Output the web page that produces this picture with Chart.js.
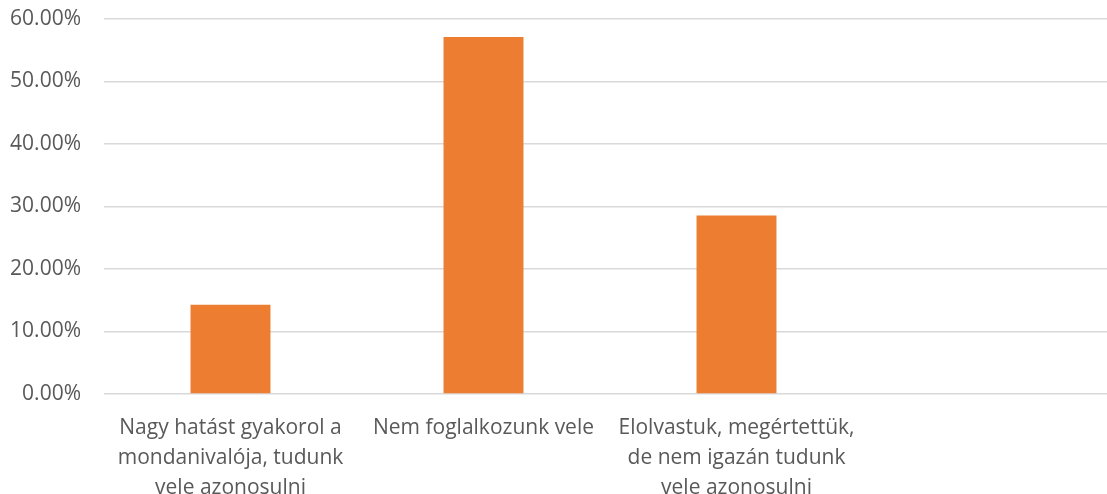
<!DOCTYPE html>
<html>
<head>
<meta charset="utf-8">
<script src="https://cdn.jsdelivr.net/npm/chart.js@4.4.0/dist/chart.umd.min.js"></script>
<style>
  html, body { margin: 0; padding: 0; background: #fff; overflow: hidden; }
  #wrap { width: 1120px; height: 494px; position: relative; }
</style>
</head>
<body>
<div id="wrap"><canvas id="chart"></canvas></div>
<script>
// categories (4th slot is empty in the original)
const categories = [
  ["Nagy hatást gyakorol a", "mondanivalója, tudunk", "vele azonosulni"],
  "Nem foglalkozunk vele",
  ["Elolvastuk, megértettük,", "de nem igazán tudunk", "vele azonosulni"],
  "",
];
const values = [0.1429, 0.5714, 0.2857, null];
const yTicks = [0, 0.1, 0.2, 0.3, 0.4, 0.5, 0.6];

const textColor = "#595959";
const gridColor = "#D9D9D9";
const xFont = { family: "'Open Sans', sans-serif", size: 21, lineHeight: 1.43 };
const yFont = { family: "'Open Sans', sans-serif", size: 21, lineHeight: 1.2 };

const ctx = document.getElementById("chart").getContext("2d");
new Chart(ctx, {
  type: "bar",
  data: {
    labels: categories,
    datasets: [
      {
        data: values,
        backgroundColor: "#ED7D31",
        categoryPercentage: 1,
        barPercentage: 0.316,
      },
    ],
  },
  options: {
    responsive: true,
    maintainAspectRatio: false,
    animation: false,
    layout: { padding: { top: 19, right: 4, bottom: 0, left: 0 } },
    plugins: { legend: { display: false }, tooltip: { enabled: false } },
    scales: {
      x: {
        grid: { display: false, drawTicks: false },
        border: { display: false },
        ticks: { color: textColor, font: xFont, padding: 19, maxRotation: 0, autoSkip: false },
        afterFit: (s) => { s.height = 100; },
      },
      y: {
        min: 0,
        max: 0.6,
        afterBuildTicks: (s) => { s.ticks = yTicks.map((v) => ({ value: v })); },
        grid: { color: gridColor, lineWidth: 1.5, drawTicks: false },
        border: { display: false },
        ticks: {
          color: textColor,
          font: yFont,
          padding: 23,
          callback: (v) => (v * 100).toFixed(2) + "%",
        },
        afterFit: (s) => {
          s.width = 104;
          s.paddingTop = 0;
          s.paddingBottom = 0;
        },
      },
    },
  },
});
</script>
</body>
</html>
